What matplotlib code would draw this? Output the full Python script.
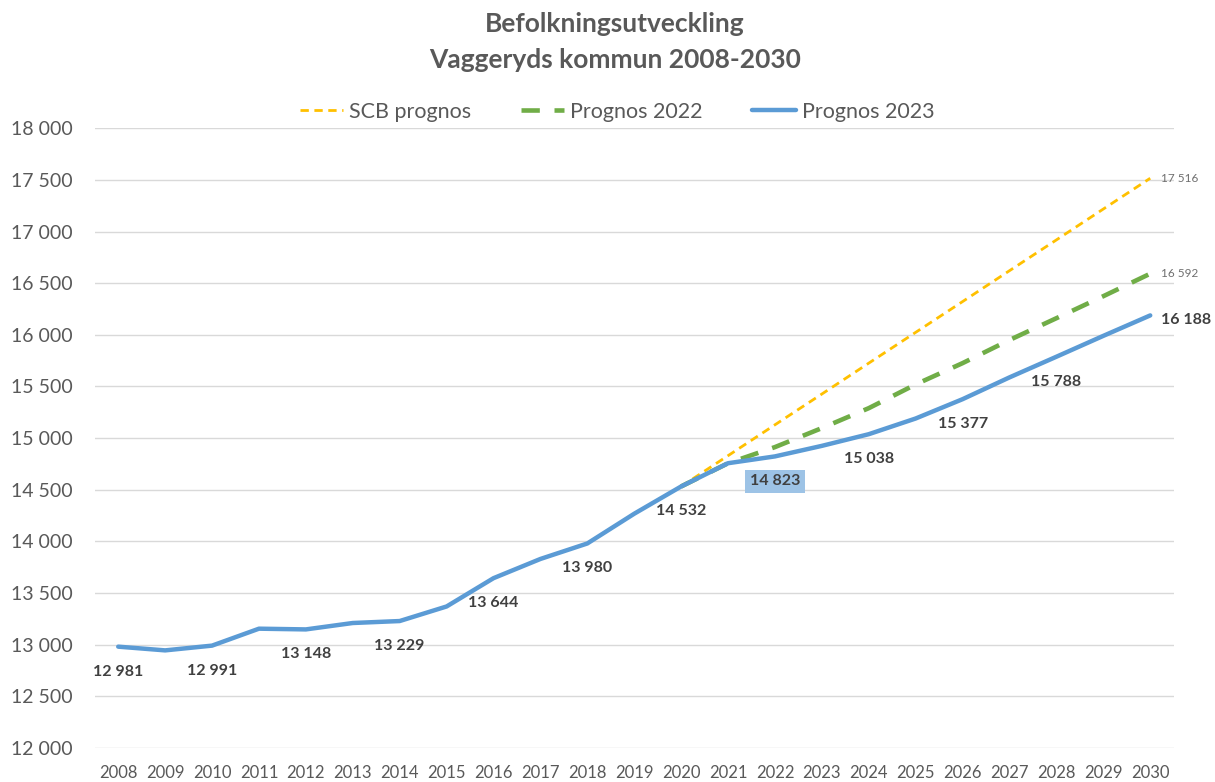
import matplotlib.pyplot as plt

plt.rcParams["font.family"] = ["Lato", "DejaVu Sans"]

years = list(range(2008, 2031))

# Prognos 2023 (utfall + prognos)
prognos_2023 = [12981, 12945, 12991, 13155, 13148, 13210, 13229, 13370, 13644,
                13830, 13980, 14268, 14532, 14757, 14823, 14925, 15038, 15190,
                15377, 15588, 15788, 15990, 16188]

# Prognos 2022 och SCB prognos, från 2020
prognos_years = list(range(2020, 2031))
prognos_2022 = [14532, 14757, 14913, 15097, 15290, 15520, 15726, 15950, 16161,
                16374, 16592]
scb_prognos = [14532, 14830, 15129, 15427, 15726, 16024, 16322, 16621, 16919,
               17218, 17516]

label_years = [2008, 2010, 2012, 2014, 2016, 2018, 2020, 2022, 2024, 2026, 2028]

TEXT = "#595959"
LABEL = "#404040"


def fmt(v):
    return f"{v:,}".replace(",", " ")


fig = plt.figure(figsize=(12.15, 7.82), dpi=100)
ax = fig.add_axes([0.078, 0.0435, 0.888, 0.7925])

ax.plot(prognos_years, scb_prognos, color="#FFC000", lw=2,
        dashes=(3, 2), label="SCB prognos", zorder=2)
ax.plot(prognos_years, prognos_2022, color="#70AD47", lw=3.3,
        dashes=(4, 3.2), label="Prognos 2022", zorder=3)
ax.plot(years, prognos_2023, color="#5B9BD5", lw=3.2, label="Prognos 2023",
        solid_capstyle="round", zorder=4)

# Datalabels for Prognos 2023
for y in label_years:
    v = prognos_2023[years.index(y)]
    kw = {}
    if y == 2022:
        kw["bbox"] = dict(boxstyle="square,pad=0.3", fc="#9DC3E6", ec="none")
    ax.annotate(fmt(v), (y, v), xytext=(0, -18), textcoords="offset points",
                ha="center", va="center", fontsize=11.5, fontweight="bold",
                color=LABEL, **kw)

ax.annotate(fmt(prognos_2023[-1]), (2030, prognos_2023[-1]), xytext=(8, -3),
            textcoords="offset points", ha="left", va="center", fontsize=11.5,
            fontweight="bold", color=LABEL)
ax.annotate(fmt(scb_prognos[-1]), (2030, scb_prognos[-1]), xytext=(8, 0),
            textcoords="offset points", ha="left", va="center", fontsize=8.5,
            color="#6F6F6F")
ax.annotate(fmt(prognos_2022[-1]), (2030, prognos_2022[-1]), xytext=(8, 0),
            textcoords="offset points", ha="left", va="center", fontsize=8.5,
            color="#6F6F6F")

ax.set_xlim(2007.5, 2030.5)
ax.set_ylim(12000, 18000)
ax.set_xticks(years)
ax.set_yticks(range(12000, 18001, 500))
ax.set_yticklabels([fmt(v) for v in range(12000, 18001, 500)])
ax.tick_params(axis="y", length=0, pad=16, labelsize=14, labelcolor=TEXT)
ax.tick_params(axis="x", length=0, pad=12, labelsize=12, labelcolor=TEXT)
ax.grid(axis="y", color="#D9D9D9", lw=1)
ax.set_axisbelow(True)
for s in ax.spines.values():
    s.set_visible(False)

fig.text(0.506, 0.946, "Befolkningsutveckling\nVaggeryds kommun 2008-2030",
         ha="center", va="center", fontsize=19, fontweight="bold",
         color=TEXT, linespacing=1.6)

fig.legend(loc="center", bbox_to_anchor=(0.508, 0.857), ncol=3, frameon=False,
           fontsize=15.5, handlelength=2.0, handletextpad=0.3, columnspacing=2.3,
           labelcolor=TEXT)

fig.savefig("out.png", dpi=100)
